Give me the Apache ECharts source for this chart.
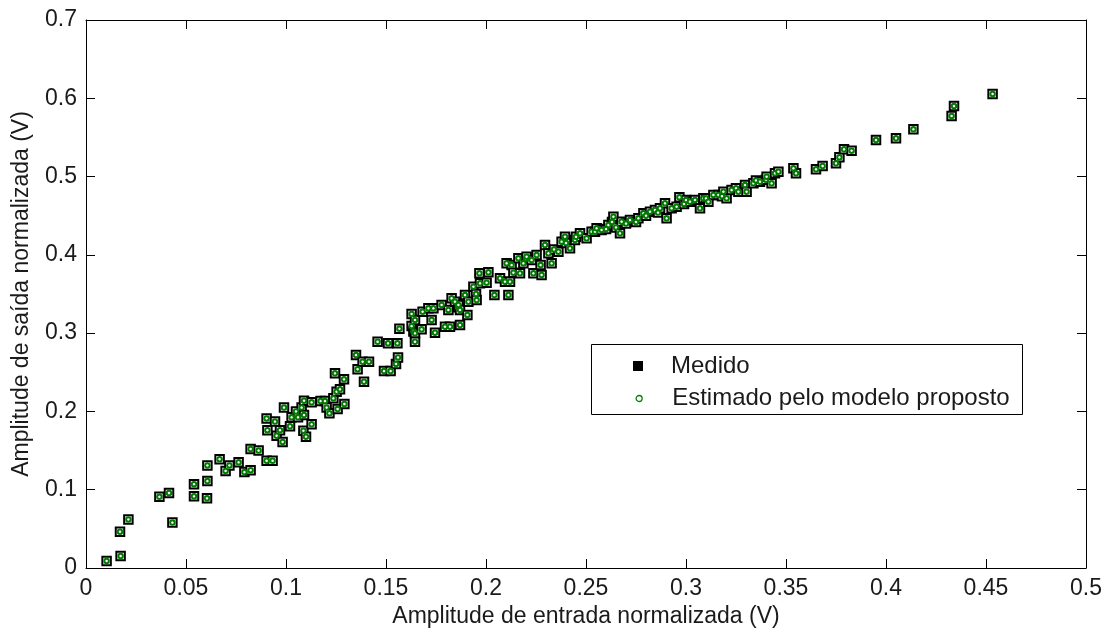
<!DOCTYPE html>
<html>
<head>
<meta charset="utf-8">
<script src="https://cdn.jsdelivr.net/npm/echarts@6/dist/echarts.min.js"></script>
<style>html,body{margin:0;padding:0;background:#fff;}#c{width:1113px;height:635px;}</style>
</head>
<body>
<div id="c"></div>
<script>
// Input amplitude (normalized, V)
var inX = [0.0103,0.0170,0.0173,0.0212,0.0367,0.0415,0.0432,0.0540,0.0540,0.0605,0.0607,0.0607,0.0668,0.0698,0.0717,0.0763,0.0792,0.0823,0.0823,0.0863,
0.0903,0.0903,0.0907,0.0933,0.0945,0.0953,0.0970,0.0983,0.0990,0.1020,0.1028,0.1050,0.1060,0.1078,0.1087,0.1090,0.1090,0.1100,0.1128,0.1128,
0.1173,0.1195,0.1203,0.1217,0.1237,0.1245,0.1253,0.1258,0.1270,0.1290,0.1292,0.1350,0.1358,0.1383,0.1390,0.1415,0.1458,0.1490,0.1510,0.1523,
0.1550,0.1557,0.1560,0.1567,0.1628,0.1628,0.1637,0.1645,0.1645,0.1645,0.1678,0.1683,0.1712,0.1728,0.1737,0.1745,0.1778,0.1795,0.1812,0.1820,
0.1828,0.1845,0.1860,0.1862,0.1870,0.1870,0.1895,0.1907,0.1912,0.1937,0.1950,0.1953,0.1967,0.1970,0.2003,0.2012,0.2042,0.2070,0.2095,0.2103,
0.2112,0.2120,0.2128,0.2137,0.2162,0.2170,0.2187,0.2200,0.2203,0.2228,0.2237,0.2253,0.2273,0.2278,0.2295,0.2312,0.2328,0.2340,0.2362,0.2378,
0.2395,0.2400,0.2420,0.2445,0.2450,0.2470,0.2503,0.2528,0.2545,0.2553,0.2578,0.2600,0.2612,0.2630,0.2637,0.2650,0.2670,0.2678,0.2700,0.2720,
0.2750,0.2762,0.2787,0.2800,0.2820,0.2845,0.2860,0.2870,0.2895,0.2903,0.2928,0.2953,0.2967,0.2990,0.3000,0.3020,0.3045,0.3070,0.3087,0.3100,
0.3112,0.3137,0.3162,0.3180,0.3187,0.3203,0.3228,0.3250,0.3262,0.3295,0.3303,0.3337,0.3350,0.3370,0.3400,0.3403,0.3428,0.3445,0.3462,0.3537,
0.3550,0.3650,0.3683,0.3750,0.3767,0.3790,0.3828,0.3950,0.4050,0.4137,0.4328,0.4340,0.4533];
// Measured output amplitude (normalized, V)
var measY = [0.0090,0.0464,0.0153,0.0620,0.0910,0.0958,0.0580,0.1070,0.0916,0.0890,0.1110,0.1310,0.1390,0.1240,0.1310,0.1350,0.1226,0.1250,0.1520,0.1500,
0.1370,0.1910,0.1760,0.1370,0.1870,0.1690,0.1760,0.1610,0.2050,0.1810,0.1925,0.2000,0.1925,0.2050,0.1754,0.2137,0.1954,0.1677,0.1836,0.2117,
0.2133,0.2133,0.2050,0.1976,0.2168,0.2487,0.2252,0.2031,0.2283,0.2410,0.2095,0.2720,0.2540,0.2635,0.2380,0.2635,0.2890,0.2516,0.2870,0.2516,
0.2606,0.2870,0.2690,0.3057,0.3245,0.3090,0.3020,0.3168,0.2998,0.2890,0.3049,0.3274,0.3317,0.3168,0.3317,0.3006,0.3360,0.3082,0.3296,0.3082,
0.3445,0.3402,0.3330,0.3360,0.3296,0.3104,0.3487,0.3232,0.3402,0.3594,0.3500,0.3423,0.3764,0.3637,0.3645,0.3777,0.3487,0.3700,0.3657,0.3892,
0.3487,0.3657,0.3870,0.3773,0.3956,0.3764,0.3892,0.3950,0.3977,0.3934,0.3764,0.3998,0.3870,0.3743,0.4126,0.4020,0.3892,0.4070,0.4040,0.4168,
0.4232,0.4150,0.4084,0.4190,0.4230,0.4275,0.4211,0.4296,0.4296,0.4339,0.4318,0.4330,0.4381,0.4420,0.4487,0.4350,0.4275,0.4424,0.4400,0.4445,
0.4420,0.4467,0.4531,0.4500,0.4552,0.4573,0.4540,0.4595,0.4658,0.4467,0.4595,0.4615,0.4735,0.4650,0.4700,0.4679,0.4701,0.4595,0.4722,0.4720,
0.4679,0.4765,0.4765,0.4750,0.4807,0.4722,0.4828,0.4850,0.4807,0.4892,0.4807,0.4914,0.4950,0.4934,0.4960,0.4998,0.4914,0.5041,0.5062,0.5105,
0.5041,0.5093,0.5135,0.5170,0.5246,0.5348,0.5330,0.5467,0.5489,0.5604,0.5774,0.5901,0.6055];
// Output estimated by the proposed model (overlaps the measured points)
var estY = measY.slice();

var xTicks = [0,0.05,0.1,0.15,0.2,0.25,0.3,0.35,0.4,0.45,0.5];
var yTicks = [0,0.1,0.2,0.3,0.4,0.5,0.6,0.7];

var FONT = '"Liberation Sans", Arial, sans-serif';
var TXT = '#1a1a1a';
var measData = inX.map(function(x,i){return [x, measY[i]];});
var estData = inX.map(function(x,i){return [x, estY[i]];});

function fmt(v){ return String(+(+v).toFixed(2)); }

var axisCommon = {
  axisLine:{show:true, onZero:false, lineStyle:{color:'#000', width:1}},
  axisTick:{show:true, inside:true, length:9, lineStyle:{color:'#000', width:1}},
  splitLine:{show:false}
};

var chart = echarts.init(document.getElementById('c'), null, {renderer:'canvas'});
chart.setOption({
  animation:false,
  backgroundColor:'#fff',
  grid:{left:86, right:27, top:20, bottom:67, containLabel:false},
  xAxis:[
    Object.assign({type:'value', position:'bottom', min:xTicks[0], max:xTicks[xTicks.length-1], interval:0.05,
      name:'Amplitude de entrada normalizada (V)', nameLocation:'middle', nameGap:37,
      nameTextStyle:{fontFamily:FONT, fontSize:23, color:TXT},
      axisLabel:{show:true, margin:9, fontFamily:FONT, fontSize:23, color:TXT, formatter:fmt}}, axisCommon),
    Object.assign({type:'value', position:'top', min:xTicks[0], max:xTicks[xTicks.length-1], interval:0.05,
      axisLabel:{show:false}}, axisCommon)
  ],
  yAxis:[
    Object.assign({type:'value', position:'left', min:yTicks[0], max:yTicks[yTicks.length-1], interval:0.1,
      name:'Amplitude de saída normalizada (V)', nameLocation:'middle', nameGap:53,
      nameTextStyle:{fontFamily:FONT, fontSize:23, color:TXT},
      axisLabel:{show:true, margin:9, fontFamily:FONT, fontSize:23, color:TXT, formatter:fmt}}, axisCommon),
    Object.assign({type:'value', position:'right', min:yTicks[0], max:yTicks[yTicks.length-1], interval:0.1,
      axisLabel:{show:false}}, axisCommon)
  ],
  legend:[
    {orient:'vertical', left:628, top:349, itemWidth:10, itemHeight:10, itemGap:8,
     data:[{name:'Medido', icon:'rect', itemStyle:{color:'#000', borderWidth:0}}],
     textStyle:{fontFamily:FONT, fontSize:24, color:TXT, padding:[0,0,0,23], lineHeight:24}, z:5},
    {orient:'vertical', left:630.5, top:381.5, itemWidth:6, itemHeight:6, itemGap:8,
     data:[{name:'Estimado pelo modelo proposto', icon:'circle', itemStyle:{color:'#fff', borderColor:'#008000', borderWidth:1.3}}],
     textStyle:{fontFamily:FONT, fontSize:24, color:TXT, padding:[0,0,0,25], lineHeight:24}, z:5}
  ],
  graphic:[{type:'rect', z:4, shape:{x:591.5, y:344.5, width:431, height:70},
    style:{fill:'#fff', stroke:'#000', lineWidth:1}}],
  series:[
    {name:'Medido', type:'scatter', xAxisIndex:0, yAxisIndex:0, data:measData,
     symbol:'rect', symbolSize:8.5,
     itemStyle:{color:'#fff', borderColor:'#000', borderWidth:2, opacity:1}, z:2},
    {name:'Estimado pelo modelo proposto', type:'scatter', xAxisIndex:0, yAxisIndex:0, data:estData,
     symbol:'circle', symbolSize:4.5,
     itemStyle:{color:'#fff', borderColor:'#007a00', borderWidth:2, opacity:1}, z:3}
  ]
});
</script>
</body>
</html>
